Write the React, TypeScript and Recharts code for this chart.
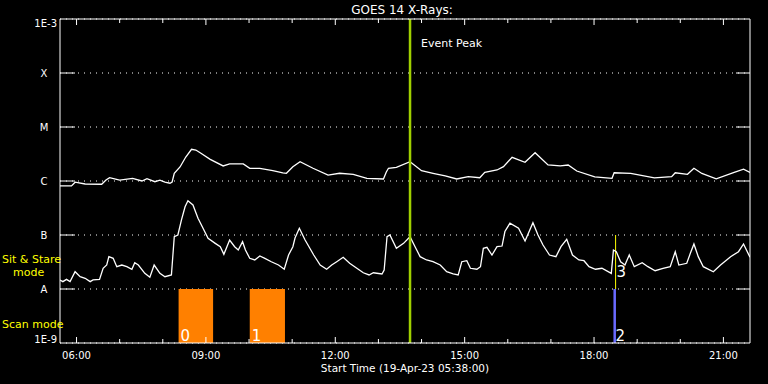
import React from "react"
import {
  LineChart,
  Line,
  XAxis,
  YAxis,
  CartesianGrid,
  ReferenceArea,
  ReferenceLine,
  ReferenceDot,
} from "recharts"

const FONT = "'DejaVu Sans', sans-serif"

// 1-8 A channel (upper curve), W/m^2
const longTimes = [
  "05:37", "05:53", "05:58", "06:12", "06:35", "06:41", "06:46", "07:00", "07:18", "07:31",
  "07:38", "07:49", "07:56", "08:03", "08:10", "08:13", "08:16", "08:24", "08:32", "08:40",
  "08:46", "08:52", "09:06", "09:24", "09:33", "09:52", "10:01", "10:15", "10:33", "10:47",
  "10:52", "11:01", "11:11", "11:29", "11:50", "12:06", "12:25", "12:44", "13:07", "13:11",
  "13:14", "13:25", "13:44", "14:00", "14:16", "14:33", "14:49", "15:05", "15:21", "15:28",
  "15:45", "15:54", "16:06", "16:24", "16:38", "16:56", "17:13", "17:24", "17:36", "18:01",
  "18:25", "18:28", "18:51", "19:24", "19:48", "19:53", "20:10", "20:19", "20:30", "20:50",
  "21:15", "21:28", "21:37",
]
const longFlux = [
  8.1e-7, 8.1e-7, 9.5e-7, 8.8e-7, 8.7e-7, 1.04e-6, 1.15e-6, 1.04e-6, 1.12e-6, 1.0e-6,
  1.1e-6, 9.7e-7, 1.04e-6, 9.5e-7, 9.1e-7, 9.6e-7, 1.39e-6, 1.82e-6, 2.78e-6, 3.86e-6,
  3.75e-6, 3.34e-6, 2.52e-6, 1.9e-6, 2.07e-6, 2.07e-6, 1.72e-6, 1.72e-6, 1.55e-6, 1.42e-6,
  1.39e-6, 1.84e-6, 2.28e-6, 1.72e-6, 1.29e-6, 1.39e-6, 1.33e-6, 1.12e-6, 1.09e-6, 1.47e-6,
  1.72e-6, 1.79e-6, 2.28e-6, 1.55e-6, 1.39e-6, 1.24e-6, 1.09e-6, 1.2e-6, 1.15e-6, 1.45e-6,
  1.6e-6, 1.84e-6, 2.75e-6, 2.22e-6, 3.34e-6, 1.98e-6, 1.9e-6, 1.98e-6, 1.53e-6, 1.19e-6,
  1.12e-6, 1.42e-6, 1.39e-6, 1.14e-6, 1.2e-6, 1.42e-6, 1.33e-6, 1.72e-6, 1.38e-6, 1.1e-6,
  1.44e-6, 1.65e-6, 1.44e-6,
]

// 0.5-4 A channel (lower curve), W/m^2
const shortTimes = [
  "05:37", "05:41", "05:46", "05:51", "05:58", "06:05", "06:12", "06:19", "06:23", "06:32",
  "06:37", "06:42", "06:45", "06:51", "06:56", "07:03", "07:10", "07:17", "07:21", "07:26",
  "07:35", "07:42", "07:48", "07:56", "08:03", "08:12", "08:16", "08:21", "08:26", "08:31",
  "08:35", "08:42", "08:49", "08:56", "09:03", "09:13", "09:20", "09:25", "09:33", "09:40",
  "09:45", "09:51", "09:55", "10:01", "10:08", "10:15", "10:22", "10:31", "10:41", "10:49",
  "10:55", "11:01", "11:04", "11:10", "11:18", "11:30", "11:39", "11:48", "11:55", "12:02",
  "12:11", "12:20", "12:30", "12:39", "12:47", "12:53", "13:05", "13:08", "13:12", "13:16",
  "13:25", "13:35", "13:44", "13:51", "13:58", "14:07", "14:16", "14:26", "14:35", "14:44",
  "14:51", "14:56", "15:03", "15:08", "15:17", "15:22", "15:26", "15:31", "15:38", "15:45",
  "15:52", "15:56", "16:03", "16:15", "16:24", "16:35", "16:42", "16:49", "16:58", "17:07",
  "17:14", "17:22", "17:30", "17:39", "17:46", "17:53", "18:02", "18:11", "18:24", "18:27",
  "18:31", "18:37", "18:43", "18:49", "18:56", "19:07", "19:15", "19:25", "19:36", "19:46",
  "19:53", "19:58", "20:09", "20:14", "20:19", "20:25", "20:32", "20:46", "20:56", "21:10",
  "21:21", "21:28", "21:37",
]
const shortFlux = [
  1.47e-8, 1.37e-8, 1.51e-8, 1.37e-8, 2.09e-8, 1.69e-8, 1.58e-8, 1.37e-8, 1.47e-8, 1.51e-8,
  2.42e-8, 2.78e-8, 3.97e-8, 3.7e-8, 2.59e-8, 2.78e-8, 2.59e-8, 2.32e-8, 3.07e-8, 2.78e-8,
  1.95e-8, 1.65e-8, 2.78e-8, 1.95e-8, 1.69e-8, 1.82e-8, 9.3e-8, 1.0e-7, 1.9e-7, 3.34e-7,
  4.3e-7, 3.6e-7, 2.04e-7, 1.33e-7, 8.65e-8, 7.0e-8, 6.07e-8, 4.39e-8, 8.08e-8, 6.07e-8,
  5.27e-8, 7.5e-8, 5.27e-8, 3.7e-8, 3.45e-8, 4.08e-8, 3.7e-8, 3.2e-8, 2.78e-8, 2.32e-8,
  4.26e-8, 6.07e-8, 8.8e-8, 1.33e-7, 8.08e-8, 4.26e-8, 2.78e-8, 2.32e-8, 2.78e-8, 3.2e-8,
  3.86e-8, 2.99e-8, 2.42e-8, 2.0e-8, 1.82e-8, 2.0e-8, 1.9e-8, 2.25e-8, 9.3e-8, 1.0e-7,
  5.67e-8, 7.0e-8, 9.3e-8, 6.07e-8, 3.97e-8, 3.45e-8, 3.2e-8, 2.78e-8, 2.09e-8, 1.9e-8,
  1.82e-8, 3.2e-8, 3.34e-8, 2.42e-8, 2.32e-8, 2.59e-8, 5.67e-8, 5.92e-8, 4.26e-8, 6.07e-8,
  6.25e-8, 1.16e-7, 1.65e-7, 1.33e-7, 7.74e-8, 1.69e-7, 1.0e-7, 6.52e-8, 4.26e-8, 3.97e-8,
  6.07e-8, 8.33e-8, 4.26e-8, 3.45e-8, 3.34e-8, 2.59e-8, 2.32e-8, 2.42e-8, 1.95e-8, 5.27e-8,
  4.9e-8, 3.2e-8, 2.78e-8, 4.26e-8, 2.59e-8, 3.07e-8, 2.59e-8, 2.18e-8, 2.42e-8, 2.59e-8,
  4.9e-8, 2.78e-8, 2.99e-8, 4.58e-8, 6.81e-8, 3.97e-8, 2.59e-8, 2.09e-8, 2.78e-8, 3.97e-8,
  4.9e-8, 6.81e-8, 3.86e-8,
]

const hourTicks = [6, 7, 8, 9, 10, 11, 12, 13, 14, 15, 16, 17, 18, 19, 20, 21]
const levelTicks = [1e-9, 1e-8, 1e-7, 1e-6, 1e-5, 1e-4, 1e-3]
const levelNames = ["1E-9", "A", "B", "C", "M", "X", "1E-3"]

const scanWindows = [
  { from: "08:22", to: "09:10", label: "0" },
  { from: "10:01", to: "10:50", label: "1" },
]
const stareWindow = { from: "18:27:00", to: "18:30:30", label: "2" }
const stareMark = { at: "18:30", label: "3" }
const eventPeak = "13:44"

const toHours = (s: string) => {
  const p = s.split(":").map(Number)
  return p[0] + p[1] / 60 + (p[2] || 0) / 3600
}
const pad = (n: number) => String(n).padStart(2, "0")

const longSeries = longTimes.map((t, i) => ({ t: toHours(t), f: longFlux[i] }))
const shortSeries = shortTimes.map((t, i) => ({ t: toHours(t), f: shortFlux[i] }))

const domainStart = toHours("05:37")
const domainEnd = toHours("21:37")

const BottomTick = (props: any) => {
  const { x, y, payload } = props
  const major = payload.value % 3 === 0
  return (
    <g>
      <line x1={x} x2={x} y1={y} y2={y - (major ? 6 : 4)} stroke="#fff" />
      {major && (
        <text x={x} y={y + 16} textAnchor="middle" fill="#fff" fontSize={10} fontFamily={FONT}>
          {pad(payload.value) + ":00"}
        </text>
      )}
    </g>
  )
}

const TopTick = (props: any) => {
  const { x, y, payload } = props
  const major = payload.value % 3 === 0
  return <line x1={x} x2={x} y1={y} y2={y + (major ? 6 : 4)} stroke="#fff" />
}

const LeftTick = (props: any) => {
  const { x, y, payload } = props
  const k = Math.round(Math.log10(payload.value)) + 9
  const name = levelNames[k]
  if (k === 0 || k === 6) {
    return (
      <text x={x - 3} y={k === 6 ? y + 8 : y} textAnchor="end" fill="#fff" fontSize={10} fontFamily={FONT}>
        {name}
      </text>
    )
  }
  return (
    <g>
      <line x1={x} x2={x + 15} y1={y} y2={y} stroke="#fff" />
      <text x={x - 16} y={y + 4} textAnchor="middle" fill="#fff" fontSize={10} fontFamily={FONT}>
        {name}
      </text>
    </g>
  )
}

const RightTick = (props: any) => {
  const { x, y, payload } = props
  const k = Math.round(Math.log10(payload.value)) + 9
  if (k === 0 || k === 6) return <g />
  return <line x1={x - 14} x2={x} y1={y} y2={y} stroke="#fff" />
}

const numLabel = (value: string) => ({
  value,
  position: "insideBottomLeft" as const,
  offset: 2,
  fill: "#fff",
  fontSize: 15,
  fontFamily: FONT,
})

export default function App() {
  return (
    <div style={{ position: "absolute", top: 0, left: 0, width: 768, height: 384, background: "#000" }}>
      <LineChart width={768} height={384} margin={{ top: 0, right: 0, bottom: 0, left: 0 }}>
        <CartesianGrid vertical={false} stroke="#fff" strokeDasharray="1 5" />
        <XAxis
          dataKey="t"
          type="number"
          domain={[domainStart, domainEnd]}
          ticks={hourTicks}
          interval={0}
          height={41}
          tickSize={0}
          tickMargin={0}
          axisLine={{ stroke: "#fff" }}
          tickLine={false}
          tick={<BottomTick />}
          allowDataOverflow
        />
        <XAxis
          xAxisId="top"
          orientation="top"
          dataKey="t"
          type="number"
          domain={[domainStart, domainEnd]}
          ticks={hourTicks}
          interval={0}
          height={19}
          tickSize={0}
          tickMargin={0}
          axisLine={{ stroke: "#fff" }}
          tickLine={false}
          tick={<TopTick />}
          allowDataOverflow
        />
        <YAxis
          type="number"
          scale="log"
          domain={[1e-9, 1e-3]}
          ticks={levelTicks}
          interval={0}
          width={60}
          tickSize={0}
          tickMargin={0}
          axisLine={{ stroke: "#fff" }}
          tickLine={false}
          tick={<LeftTick />}
          allowDataOverflow
        />
        <YAxis
          yAxisId="right"
          orientation="right"
          type="number"
          scale="log"
          domain={[1e-9, 1e-3]}
          ticks={levelTicks}
          interval={0}
          width={18}
          tickSize={0}
          tickMargin={0}
          axisLine={{ stroke: "#fff" }}
          tickLine={false}
          tick={<RightTick />}
          allowDataOverflow
        />
        {scanWindows.map((w) => (
          <ReferenceArea
            key={w.label}
            x1={toHours(w.from)}
            x2={toHours(w.to)}
            y1={1e-9}
            y2={1e-8}
            fill="#ff8000"
            fillOpacity={1}
            stroke="none"
            label={numLabel(w.label)}
          />
        ))}
        <ReferenceArea
          x1={toHours(stareWindow.from)}
          x2={toHours(stareWindow.to)}
          y1={1e-9}
          y2={1e-8}
          fill="#6a6aff"
          fillOpacity={1}
          stroke="none"
          label={numLabel(stareWindow.label)}
        />
        <ReferenceLine
          segment={[
            { x: toHours(stareMark.at), y: 1e-8 },
            { x: toHours(stareMark.at), y: 1e-7 },
          ]}
          stroke="#ffff00"
        />
        <ReferenceDot
          x={toHours(stareMark.at)}
          y={2.13e-8}
          r={0}
          fill="none"
          stroke="none"
          label={{ value: stareMark.label, position: "right", offset: 1, fill: "#fff", fontSize: 15, fontFamily: FONT }}
        />
        <Line data={longSeries} dataKey="f" type="linear" stroke="#fff" strokeWidth={1.3} dot={false} isAnimationActive={false} />
        <Line data={shortSeries} dataKey="f" type="linear" stroke="#fff" strokeWidth={1.3} dot={false} isAnimationActive={false} />
        <ReferenceLine x={toHours(eventPeak)} stroke="#a0d000" strokeWidth={2.5} />
      </LineChart>
      <svg width={768} height={384} style={{ position: "absolute", top: 0, left: 0, pointerEvents: "none" }}>
        <text x={402} y={14} textAnchor="middle" fill="#fff" fontSize={12} fontFamily={FONT}>
          GOES 14 X-Rays:
        </text>
        <text x={421} y={47} fill="#fff" fontSize={11} fontFamily={FONT}>
          Event Peak
        </text>
        <text x={405} y={371.5} textAnchor="middle" fill="#fff" fontSize={10.5} fontFamily={FONT}>
          Start Time (19-Apr-23 05:38:00)
        </text>
        <text x={2} y={262.7} fill="#ffff00" fontSize={11} fontFamily={FONT}>
          Sit &amp; Stare
        </text>
        <text x={13} y={275.7} fill="#ffff00" fontSize={11} fontFamily={FONT}>
          mode
        </text>
        <text x={2} y={328.3} fill="#ffff00" fontSize={11} fontFamily={FONT}>
          Scan mode
        </text>
      </svg>
    </div>
  )
}
